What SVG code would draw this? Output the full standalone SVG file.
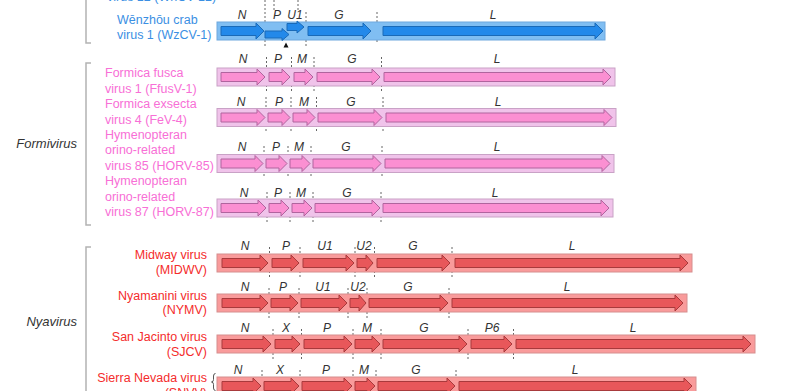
<svg xmlns="http://www.w3.org/2000/svg" width="800" height="391" viewBox="0 0 800 391">
<style>
text{font-family:"Liberation Sans",Arial,sans-serif}
.g{font-size:12px;font-style:italic;fill:#333;text-anchor:middle}
.genus{font-size:13px;font-style:italic;fill:#333;text-anchor:end}
.sb{font-size:12.5px;fill:#3b8fe3}
.sp{font-size:12.5px;fill:#f86fd6}
.sr{font-size:12.5px;fill:#f42c2c;text-anchor:end}
.br{fill:none;stroke:#b3b3b3;stroke-width:1.5}
.d{stroke:#666;stroke-width:1;stroke-dasharray:2,2}
.bb{fill:#80bef2;stroke:#6ea8de;stroke-width:1}
.ab{fill:#2389ea;stroke:#1a6ab8;stroke-width:1}
.bp{fill:#f0c3ea;stroke:#c9a2c6;stroke-width:1}
.ap{fill:#fb8fd2;stroke:#b0649e;stroke-width:1}
.bn{fill:#f99b9b;stroke:#d68e8e;stroke-width:1}
.an{fill:#e8575a;stroke:#a83a3c;stroke-width:1}
</style>

<!-- brackets and genus labels -->
<g id="crusta-bracket">
<path class="br" d="M86,0 V43 H91"/>
</g>
<g id="formivirus">
<path class="br" d="M91,63 H86 V225 H91"/>
<text class="genus" x="77" y="148">Formivirus</text>
</g>
<g id="nyavirus">
<path class="br" d="M91,247 H86 V395"/>
<text class="genus" x="77" y="326">Nyavirus</text>
</g>

<g id="connectors">
<!-- dashed gene boundaries -->
<path class="d" d="M265,0V46 M274,0V10 M298,0V10 M306,12V46 M377,12V44"/>
<path class="d" d="M266.5,57V91 M291.5,57V91 M314,57V91 M381.5,57V91"/>
<path class="d" d="M266,97V132 M291,97V132 M316.5,97V132 M383,97V132"/>
<path class="d" d="M264,146V178 M288,146V178 M311,146V178 M382,146V178"/>
<path class="d" d="M267,192V223 M290,192V223 M313,192V223 M381,192V223"/>
<path class="d" d="M269.5,247V278 M300,247V278 M355,247V278 M374.5,247V278 M452,247V278"/>
<path class="d" d="M269,288V318 M299,288V318 M348,288V318 M367,288V318 M449,288V318"/>
<path class="d" d="M273,329V360 M301.5,329V360 M353,329V360 M381,329V360 M468,329V360 M513.5,329V360"/>
<path class="d" d="M262,370V391 M300,370V391 M353,370V391 M376,370V391 M456,370V391"/>
</g>

<!-- WzCV-1 -->
<g id="wzcv1">
<text class="sb" x="107" y="1">virus 12 (WhCV-12)</text>
<text class="sb" x="117" y="24">Wēnzhōu crab</text>
<text class="sb" x="117" y="39">virus 1 (WzCV-1)</text>
<rect class="bb" x="217" y="22" width="388" height="18"/>
<polygon class="ab" points="221,26.5 256,26.5 256,23 264,31 256,39 256,35.5 221,35.5"/>
<polygon class="ab" points="265,31 282,31 282,28.5 289,34.5 282,40.5 282,38 265,38"/>
<polygon class="ab" points="287,23.5 297,23.5 297,21 304,27 297,33 297,30.5 287,30.5"/>
<polygon class="ab" points="308,26.5 363,26.5 363,23 371,31 363,39 363,35.5 308,35.5"/>
<polygon class="ab" points="383,26.5 595,26.5 595,23 603,31 595,39 595,35.5 383,35.5"/>
<polygon fill="#111" points="286,42.5 283.5,47.5 288.5,47.5"/>
<text class="g" x="242" y="19">N</text>
<text class="g" x="277" y="19">P</text>
<text class="g" x="295" y="19">U1</text>
<text class="g" x="339" y="19">G</text>
<text class="g" x="493" y="19">L</text>
</g>

<!-- FfusV-1 -->
<g id="ffusv1">
<text class="sp" x="105" y="77">Formica fusca</text>
<text class="sp" x="105" y="92.5">virus 1 (FfusV-1)</text>
<rect class="bp" x="217" y="68" width="398" height="18"/>
<polygon class="ap" points="221,72.5 257,72.5 257,69 265,77 257,85 257,81.5 221,81.5"/>
<polygon class="ap" points="269,72.5 282,72.5 282,69 290,77 282,85 282,81.5 269,81.5"/>
<polygon class="ap" points="294,72.5 305,72.5 305,69 313,77 305,85 305,81.5 294,81.5"/>
<polygon class="ap" points="317,72.5 372,72.5 372,69 380,77 372,85 372,81.5 317,81.5"/>
<polygon class="ap" points="384,72.5 603,72.5 603,69 611,77 603,85 603,81.5 384,81.5"/>
<text class="g" x="243" y="63">N</text>
<text class="g" x="278" y="63">P</text>
<text class="g" x="302" y="63">M</text>
<text class="g" x="352" y="63">G</text>
<text class="g" x="497" y="63">L</text>
</g>

<!-- FeV-4 -->
<g id="fev4">
<text class="sp" x="105" y="108">Formica exsecta</text>
<text class="sp" x="105" y="123.5">virus 4 (FeV-4)</text>
<rect class="bp" x="217" y="108.5" width="399" height="18"/>
<polygon class="ap" points="221,113 257,113 257,109.5 265,117.5 257,125.5 257,122 221,122"/>
<polygon class="ap" points="268,113 282,113 282,109.5 290,117.5 282,125.5 282,122 268,122"/>
<polygon class="ap" points="293,113 307,113 307,109.5 315,117.5 307,125.5 307,122 293,122"/>
<polygon class="ap" points="318,113 374,113 374,109.5 382,117.5 374,125.5 374,122 318,122"/>
<polygon class="ap" points="386,113 604,113 604,109.5 612,117.5 604,125.5 604,122 386,122"/>
<text class="g" x="241" y="106">N</text>
<text class="g" x="279" y="106">P</text>
<text class="g" x="304" y="106">M</text>
<text class="g" x="351" y="106">G</text>
<text class="g" x="498" y="106">L</text>
</g>

<!-- HORV-85 -->
<g id="horv85">
<text class="sp" x="105" y="138.5">Hymenopteran</text>
<text class="sp" x="105" y="154">orino-related</text>
<text class="sp" x="105" y="169.5">virus 85 (HORV-85)</text>
<rect class="bp" x="217" y="154.5" width="397" height="18"/>
<polygon class="ap" points="221,159 255,159 255,155.5 263,163.5 255,171.5 255,168 221,168"/>
<polygon class="ap" points="266,159 279,159 279,155.5 287,163.5 279,171.5 279,168 266,168"/>
<polygon class="ap" points="290,159 302,159 302,155.5 310,163.5 302,171.5 302,168 290,168"/>
<polygon class="ap" points="313,159 373,159 373,155.5 381,163.5 373,171.5 373,168 313,168"/>
<polygon class="ap" points="385,159 602,159 602,155.5 610,163.5 602,171.5 602,168 385,168"/>
<text class="g" x="242" y="151">N</text>
<text class="g" x="276" y="151">P</text>
<text class="g" x="299" y="151">M</text>
<text class="g" x="346" y="151">G</text>
<text class="g" x="497" y="151">L</text>
</g>

<!-- HORV-87 -->
<g id="horv87">
<text class="sp" x="105" y="185">Hymenopteran</text>
<text class="sp" x="105" y="200.5">orino-related</text>
<text class="sp" x="105" y="216">virus 87 (HORV-87)</text>
<rect class="bp" x="217" y="199" width="396" height="18"/>
<polygon class="ap" points="221,203.5 258,203.5 258,200 266,208 258,216 258,212.5 221,212.5"/>
<polygon class="ap" points="269,203.5 281,203.5 281,200 289,208 281,216 281,212.5 269,212.5"/>
<polygon class="ap" points="292,203.5 304,203.5 304,200 312,208 304,216 304,212.5 292,212.5"/>
<polygon class="ap" points="315,203.5 372,203.5 372,200 380,208 372,216 372,212.5 315,212.5"/>
<polygon class="ap" points="383,203.5 601,203.5 601,200 609,208 601,216 601,212.5 383,212.5"/>
<text class="g" x="244" y="197">N</text>
<text class="g" x="278" y="197">P</text>
<text class="g" x="301" y="197">M</text>
<text class="g" x="347" y="197">G</text>
<text class="g" x="495" y="197">L</text>
</g>

<!-- MIDWV -->
<g id="midwv">
<text class="sr" x="207" y="259">Midway virus</text>
<text class="sr" x="207" y="273.5">(MIDWV)</text>
<rect class="bn" x="217" y="254" width="475" height="18"/>
<polygon class="an" points="222,258.5 260,258.5 260,255 268,263 260,271 260,267.5 222,267.5"/>
<polygon class="an" points="272,258.5 291,258.5 291,255 299,263 291,271 291,267.5 272,267.5"/>
<polygon class="an" points="303,258.5 346,258.5 346,255 354,263 346,271 346,267.5 303,267.5"/>
<polygon class="an" points="357,258.5 366,258.5 366,255 373,263 366,271 366,267.5 357,267.5"/>
<polygon class="an" points="377,258.5 442,258.5 442,255 450,263 442,271 442,267.5 377,267.5"/>
<polygon class="an" points="455,258.5 680,258.5 680,255 688,263 680,271 680,267.5 455,267.5"/>
<text class="g" x="245" y="250">N</text>
<text class="g" x="286" y="250">P</text>
<text class="g" x="325" y="250">U1</text>
<text class="g" x="364" y="250">U2</text>
<text class="g" x="413" y="250">G</text>
<text class="g" x="572" y="250">L</text>
</g>

<!-- NYMV -->
<g id="nymv">
<text class="sr" x="207" y="299.5">Nyamanini virus</text>
<text class="sr" x="207" y="314">(NYMV)</text>
<rect class="bn" x="217" y="294" width="470" height="18"/>
<polygon class="an" points="222,298.5 260,298.5 260,295 268,303 260,311 260,307.5 222,307.5"/>
<polygon class="an" points="271,298.5 290,298.5 290,295 298,303 290,311 290,307.5 271,307.5"/>
<polygon class="an" points="301,298.5 339,298.5 339,295 347,303 339,311 339,307.5 301,307.5"/>
<polygon class="an" points="350,298.5 359,298.5 359,295 366,303 359,311 359,307.5 350,307.5"/>
<polygon class="an" points="369,298.5 440,298.5 440,295 448,303 440,311 440,307.5 369,307.5"/>
<polygon class="an" points="452,298.5 675,298.5 675,295 683,303 675,311 675,307.5 452,307.5"/>
<text class="g" x="245" y="291">N</text>
<text class="g" x="283" y="291">P</text>
<text class="g" x="323" y="291">U1</text>
<text class="g" x="358" y="291">U2</text>
<text class="g" x="408" y="291">G</text>
<text class="g" x="567" y="291">L</text>
</g>

<!-- SJCV -->
<g id="sjcv">
<text class="sr" x="207" y="341">San Jacinto virus</text>
<text class="sr" x="207" y="355.5">(SJCV)</text>
<rect class="bn" x="217" y="335" width="538" height="18"/>
<polygon class="an" points="222,339.5 263,339.5 263,336 271,344 263,352 263,348.5 222,348.5"/>
<polygon class="an" points="275,339.5 292,339.5 292,336 300,344 292,352 292,348.5 275,348.5"/>
<polygon class="an" points="304,339.5 344,339.5 344,336 352,344 344,352 344,348.5 304,348.5"/>
<polygon class="an" points="355,339.5 372,339.5 372,336 380,344 372,352 372,348.5 355,348.5"/>
<polygon class="an" points="383,339.5 459,339.5 459,336 467,344 459,352 459,348.5 383,348.5"/>
<polygon class="an" points="471,339.5 504,339.5 504,336 512,344 504,352 504,348.5 471,348.5"/>
<polygon class="an" points="516,339.5 743,339.5 743,336 751,344 743,352 743,348.5 516,348.5"/>
<text class="g" x="245" y="332">N</text>
<text class="g" x="286" y="332">X</text>
<text class="g" x="327" y="332">P</text>
<text class="g" x="367" y="332">M</text>
<text class="g" x="424" y="332">G</text>
<text class="g" x="492" y="332">P6</text>
<text class="g" x="633" y="332">L</text>
</g>

<!-- SNVV -->
<g id="snvv">
<text class="sr" x="207" y="382">Sierra Nevada virus</text>
<text class="sr" x="207" y="396.5">(SNVV)</text>
<path fill="none" stroke="#444" stroke-width="0.9" d="M215.5,373.5 q-2,0 -2,2.5 v3.5 q0,2.5 -2,2.5 q2,0 2,2.5 v3.5 q0,2.5 2,2.5"/>
<rect class="bn" x="217" y="377" width="479" height="18"/>
<polygon class="an" points="222,381.5 253,381.5 253,378 261,386 253,394 253,390.5 222,390.5"/>
<polygon class="an" points="264,381.5 291,381.5 291,378 299,386 291,394 291,390.5 264,390.5"/>
<polygon class="an" points="302,381.5 344,381.5 344,378 352,386 344,394 344,390.5 302,390.5"/>
<polygon class="an" points="355,381.5 367,381.5 367,378 375,386 367,394 367,390.5 355,390.5"/>
<polygon class="an" points="378,381.5 447,381.5 447,378 455,386 447,394 447,390.5 378,390.5"/>
<polygon class="an" points="459,381.5 684,381.5 684,378 692,386 684,394 684,390.5 459,390.5"/>
<text class="g" x="238" y="374">N</text>
<text class="g" x="280" y="374">X</text>
<text class="g" x="326" y="374">P</text>
<text class="g" x="364" y="374">M</text>
<text class="g" x="416" y="374">G</text>
<text class="g" x="575" y="374">L</text>
</g>
</svg>
